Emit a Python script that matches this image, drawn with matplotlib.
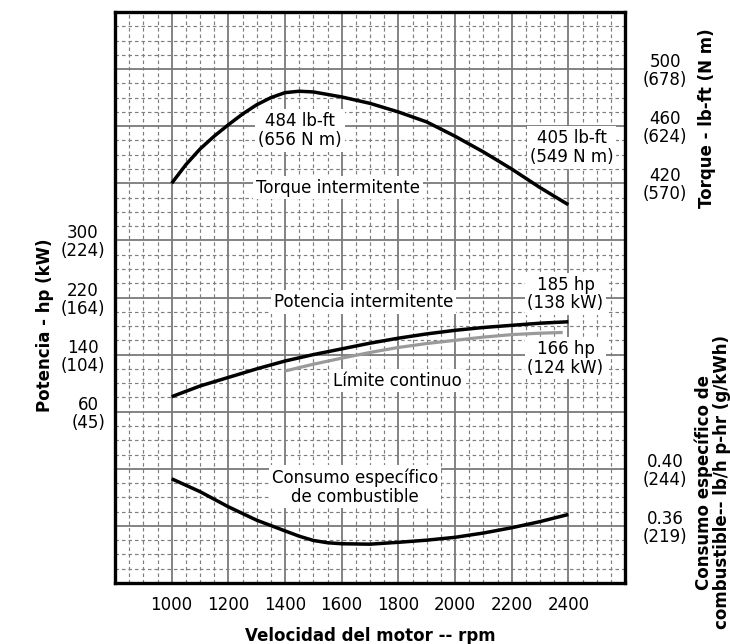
import numpy as np
import matplotlib.pyplot as plt
from matplotlib.ticker import MultipleLocator, FixedLocator, FixedFormatter

plt.rcParams['font.family'] = ['DejaVu Sans']

# datos
rpm_tq = [1000, 1050, 1100, 1150, 1200, 1250, 1300, 1350, 1400, 1450, 1500, 1600, 1700,
          1800, 1900, 2000, 2100, 2200, 2300, 2400]
torque = [420, 433, 444, 453, 461, 468.5, 475, 480, 483.5, 484.5, 484, 480.5, 476,
          470, 463, 453, 442, 430, 417, 405]

rpm = [1000, 1100, 1200, 1300, 1400, 1500, 1600, 1700, 1800, 1900, 2000, 2100, 2200, 2300, 2400]
power = [81, 96, 108, 120, 131, 140, 148, 156, 163, 169, 174, 178, 181, 184, 186]

rpm_fuel = [1000, 1100, 1200, 1300, 1400, 1450, 1500, 1550, 1600, 1700, 1800, 1900,
            2000, 2100, 2200, 2300, 2400]
fuel = [0.393, 0.384, 0.3734, 0.364, 0.3565, 0.3528, 0.3498, 0.3482, 0.3475, 0.3472,
        0.3485, 0.350, 0.352, 0.355, 0.3587, 0.363, 0.368]

rpm_cont = [1400, 1500, 1600, 1700, 1800, 1900, 2000, 2100, 2200, 2300, 2380]
power_cont = [117, 126.5, 135, 143, 150, 155.5, 160, 164.5, 168, 170, 171]

rpm_ticks = [1000, 1200, 1400, 1600, 1800, 2000, 2200, 2400]
hp_ticks = [60, 140, 220, 300]
kw_ticks = [45, 104, 164, 224]
lbft_ticks = [420, 460, 500]
nm_ticks = [570, 624, 678]
bsfc_ticks = [0.36, 0.40]
gkwh_ticks = [219, 244]

fig = plt.figure(figsize=(7.3, 6.44), dpi=100)
ax = fig.add_axes([115 / 730, 61 / 644, 510 / 730, 571 / 644])
ax_t = ax.twinx()
ax_f = ax.twinx()

ax.set_xlim(800, 2600)
ax.set_ylim(-180, 620)
ax_t.set_ylim(140, 540)
ax_f.set_ylim(0.32, 0.72)

# rejilla
xgrid = np.arange(800, 2601, 200)
ygrid = np.arange(-180, 621, 80)
ax.xaxis.set_major_locator(FixedLocator(xgrid))
ax.xaxis.set_major_formatter(FixedFormatter([str(v) if v in rpm_ticks else '' for v in xgrid]))
ax.xaxis.set_minor_locator(MultipleLocator(50))
ax.yaxis.set_major_locator(FixedLocator(ygrid))
hp_lab = {h: f"{h}\n({k})" for h, k in zip(hp_ticks, kw_ticks)}
ax.yaxis.set_major_formatter(FixedFormatter([hp_lab.get(v, '') for v in ygrid]))
ax.yaxis.set_minor_locator(MultipleLocator(20))
ax.grid(which='major', color='#7a7a7a', linewidth=1.3)
ax.grid(which='minor', color='#7e7e7e', linewidth=0.85, linestyle=(0, (3, 2.5)))
ax.set_axisbelow(True)
ax.tick_params(which='both', length=0)
ax.tick_params(axis='x', pad=9, labelsize=12)
ax.tick_params(axis='y', pad=7, labelsize=12)
for lbl in ax.get_yticklabels():
    lbl.set_multialignment('center')
    lbl.set_linespacing(1.0)
for s in ax.spines.values():
    s.set_linewidth(2.4)

ax_t.set_yticks(lbft_ticks, labels=[f"{a}\n({b})" for a, b in zip(lbft_ticks, nm_ticks)])
ax_f.set_yticks(bsfc_ticks, labels=[f"{a:.2f}\n({b})" for a, b in zip(bsfc_ticks, gkwh_ticks)])
for a in (ax_t, ax_f):
    a.tick_params(length=0, pad=13, labelsize=12)
    for lbl in a.get_yticklabels():
        lbl.set_multialignment('center')
        lbl.set_linespacing(1.0)
    for s in a.spines.values():
        s.set_visible(False)

# curvas
ax_t.plot(rpm_tq, torque, color='black', lw=2.5, solid_capstyle='butt')
ax.plot(rpm, power, color='black', lw=2.5, solid_capstyle='butt')
ax.plot(rpm_cont, power_cont, color='#9a9a9a', lw=2.3, solid_capstyle='butt')
ax_f.plot(rpm_fuel, fuel, color='black', lw=2.5, solid_capstyle='butt')

box = dict(facecolor='white', edgecolor='none', pad=2)
kw = dict(ha='center', va='center', fontsize=12, bbox=box, linespacing=1.05)
ax_t.text(1453, 457, "484 lb-ft\n(656 N m)", **kw)
ax_t.text(2411, 445, "405 lb-ft\n(549 N m)", **kw)
ax_t.text(1588, 417, "Torque intermitente", **kw)
ax.text(1678, 214, "Potencia intermitente", **kw)
ax.text(2390, 225, "185 hp\n(138 kW)", **kw)
ax.text(2390, 135, "166 hp\n(124 kW)", **kw)
ax.text(1796, 103.6, "Límite continuo", **kw)
ax_f.text(1648, 0.3873, "Consumo específico\nde combustible", **kw)

# titulos de ejes
fig.text(45 / 730, 1 - 325 / 644, "Potencia - hp (kW)", rotation=90, ha='center', va='center',
         fontsize=12, fontweight='bold')
fig.text(707 / 730, 1 - 118 / 644, "Torque - lb-ft (N m)", rotation=90, ha='center', va='center',
         fontsize=12, fontweight='bold')
fig.text(713 / 730, 1 - 482 / 644, "Consumo específico de\ncombustible-- lb/h p-hr (g/kWh)",
         rotation=90, ha='center', va='center', fontsize=12, fontweight='bold', linespacing=1.0)
fig.text(370 / 730, 1 - 636 / 644, "Velocidad del motor -- rpm", ha='center', va='center',
         fontsize=12, fontweight='bold')

fig.savefig('out.png', dpi=100)
